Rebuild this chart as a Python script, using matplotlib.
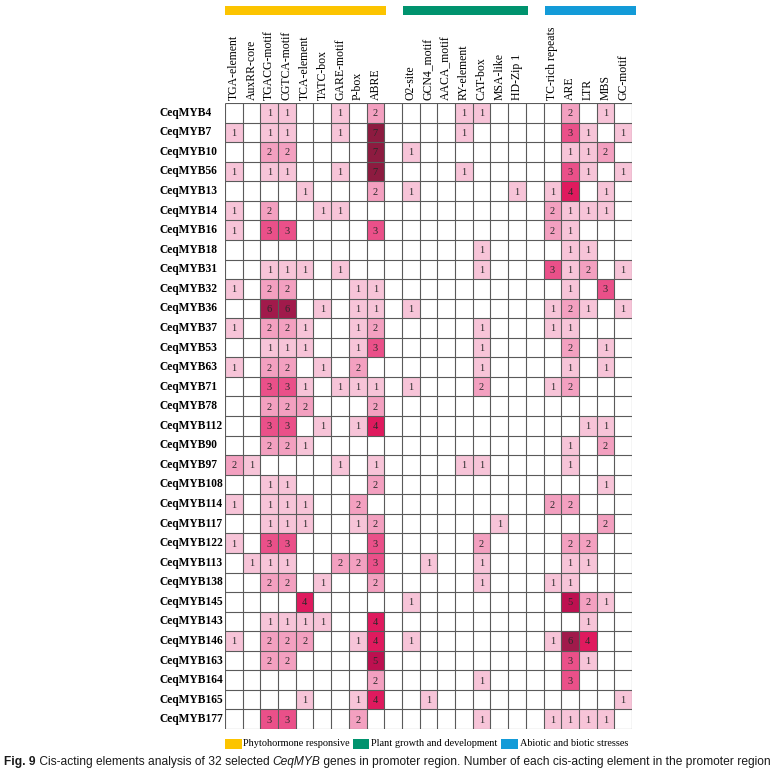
import matplotlib
matplotlib.use("Agg")
import matplotlib.pyplot as plt
import numpy as np
from matplotlib.colors import ListedColormap, BoundaryNorm
from matplotlib.patches import Rectangle
from matplotlib.transforms import blended_transform_factory

genes = ["CeqMYB4", "CeqMYB7", "CeqMYB10", "CeqMYB56", "CeqMYB13", "CeqMYB14", "CeqMYB16",
         "CeqMYB18", "CeqMYB31", "CeqMYB32", "CeqMYB36", "CeqMYB37", "CeqMYB53", "CeqMYB63",
         "CeqMYB71", "CeqMYB78", "CeqMYB112", "CeqMYB90", "CeqMYB97", "CeqMYB108", "CeqMYB114",
         "CeqMYB117", "CeqMYB122", "CeqMYB113", "CeqMYB138", "CeqMYB145", "CeqMYB143",
         "CeqMYB146", "CeqMYB163", "CeqMYB164", "CeqMYB165", "CeqMYB177"]

phyto_elements = ["TGA-element", "AuxRR-core", "TGACG-motif", "CGTCA-motif", "TCA-element",
                  "TATC-box", "GARE-motif", "P-box", "ABRE"]
growth_elements = ["O2-site", "GCN4_motif", "AACA_motif", "RY-element", "CAT-box",
                   "MSA-like", "HD-Zip 1"]
stress_elements = ["TC-rich repeats", "ARE", "LTR", "MBS", "GC-motif"]

phyto_counts = [
    [0, 0, 1, 1, 0, 0, 1, 0, 2],
    [1, 0, 1, 1, 0, 0, 1, 0, 7],
    [0, 0, 2, 2, 0, 0, 0, 0, 7],
    [1, 0, 1, 1, 0, 0, 1, 0, 7],
    [0, 0, 0, 0, 1, 0, 0, 0, 2],
    [1, 0, 2, 0, 0, 1, 1, 0, 0],
    [1, 0, 3, 3, 0, 0, 0, 0, 3],
    [0, 0, 0, 0, 0, 0, 0, 0, 0],
    [0, 0, 1, 1, 1, 0, 1, 0, 0],
    [1, 0, 2, 2, 0, 0, 0, 1, 1],
    [0, 0, 6, 6, 0, 1, 0, 1, 1],
    [1, 0, 2, 2, 1, 0, 0, 1, 2],
    [0, 0, 1, 1, 1, 0, 0, 1, 3],
    [1, 0, 2, 2, 0, 1, 0, 2, 0],
    [0, 0, 3, 3, 1, 0, 1, 1, 1],
    [0, 0, 2, 2, 2, 0, 0, 0, 2],
    [0, 0, 3, 3, 0, 1, 0, 1, 4],
    [0, 0, 2, 2, 1, 0, 0, 0, 0],
    [2, 1, 0, 0, 0, 0, 1, 0, 1],
    [0, 0, 1, 1, 0, 0, 0, 0, 2],
    [1, 0, 1, 1, 1, 0, 0, 2, 0],
    [0, 0, 1, 1, 1, 0, 0, 1, 2],
    [1, 0, 3, 3, 0, 0, 0, 0, 3],
    [0, 1, 1, 1, 0, 0, 2, 2, 3],
    [0, 0, 2, 2, 0, 1, 0, 0, 2],
    [0, 0, 0, 0, 4, 0, 0, 0, 0],
    [0, 0, 1, 1, 1, 1, 0, 0, 4],
    [1, 0, 2, 2, 2, 0, 0, 1, 4],
    [0, 0, 2, 2, 0, 0, 0, 0, 5],
    [0, 0, 0, 0, 0, 0, 0, 0, 2],
    [0, 0, 0, 0, 1, 0, 0, 1, 4],
    [0, 0, 3, 3, 0, 0, 0, 2, 0],
]

growth_counts = [
    [0, 0, 0, 1, 1, 0, 0],
    [0, 0, 0, 1, 0, 0, 0],
    [1, 0, 0, 0, 0, 0, 0],
    [0, 0, 0, 1, 0, 0, 0],
    [1, 0, 0, 0, 0, 0, 1],
    [0, 0, 0, 0, 0, 0, 0],
    [0, 0, 0, 0, 0, 0, 0],
    [0, 0, 0, 0, 1, 0, 0],
    [0, 0, 0, 0, 1, 0, 0],
    [0, 0, 0, 0, 0, 0, 0],
    [1, 0, 0, 0, 0, 0, 0],
    [0, 0, 0, 0, 1, 0, 0],
    [0, 0, 0, 0, 1, 0, 0],
    [0, 0, 0, 0, 1, 0, 0],
    [1, 0, 0, 0, 2, 0, 0],
    [0, 0, 0, 0, 0, 0, 0],
    [0, 0, 0, 0, 0, 0, 0],
    [0, 0, 0, 0, 0, 0, 0],
    [0, 0, 0, 1, 1, 0, 0],
    [0, 0, 0, 0, 0, 0, 0],
    [0, 0, 0, 0, 0, 0, 0],
    [0, 0, 0, 0, 0, 1, 0],
    [0, 0, 0, 0, 2, 0, 0],
    [0, 1, 0, 0, 1, 0, 0],
    [0, 0, 0, 0, 1, 0, 0],
    [1, 0, 0, 0, 0, 0, 0],
    [0, 0, 0, 0, 0, 0, 0],
    [1, 0, 0, 0, 0, 0, 0],
    [0, 0, 0, 0, 0, 0, 0],
    [0, 0, 0, 0, 1, 0, 0],
    [0, 1, 0, 0, 0, 0, 0],
    [0, 0, 0, 0, 1, 0, 0],
]

stress_counts = [
    [0, 2, 0, 1, 0],
    [0, 3, 1, 0, 1],
    [0, 1, 1, 2, 0],
    [0, 3, 1, 0, 1],
    [1, 4, 0, 1, 0],
    [2, 1, 1, 1, 0],
    [2, 1, 0, 0, 0],
    [0, 1, 1, 0, 0],
    [3, 1, 2, 0, 1],
    [0, 1, 0, 3, 0],
    [1, 2, 1, 0, 1],
    [1, 1, 0, 0, 0],
    [0, 2, 0, 1, 0],
    [0, 1, 0, 1, 0],
    [1, 2, 0, 0, 0],
    [0, 0, 0, 0, 0],
    [0, 0, 1, 1, 0],
    [0, 1, 0, 2, 0],
    [0, 1, 0, 0, 0],
    [0, 0, 0, 1, 0],
    [2, 2, 0, 0, 0],
    [0, 0, 0, 2, 0],
    [0, 2, 2, 0, 0],
    [0, 1, 1, 0, 0],
    [1, 1, 0, 0, 0],
    [0, 5, 2, 1, 0],
    [0, 0, 1, 0, 0],
    [1, 6, 4, 0, 0],
    [0, 3, 1, 0, 0],
    [0, 3, 0, 0, 0],
    [0, 0, 0, 0, 1],
    [1, 1, 1, 1, 0],
]

group_names = ["Phytohormone responsive", "Plant growth and development", "Abiotic and biotic stresses"]
group_colors = ["#fcc400", "#00936e", "#139bd8"]
level_colors = ["#f7c4d8", "#f3a0c0", "#ea5089", "#df1a5e", "#bd1050", "#a11a4b", "#8d1b40"]

# assemble matrix with blank spacer columns between groups
P = np.array(phyto_counts); G = np.array(growth_counts); S = np.array(stress_counts)
blank = np.zeros((len(genes), 1), dtype=int)
M = np.hstack([P, blank, G, blank, S])
col_labels = phyto_elements + [""] + growth_elements + [""] + stress_elements
nrow, ncol = M.shape

W, H = 784, 772
fig = plt.figure(figsize=(W / 100, H / 100), dpi=100)
serif = ["Liberation Serif", "DejaVu Serif"]

gl, gr, gt, gb = 225, 632, 103, 729
ax = fig.add_axes([gl / W, 1 - gb / H, (gr - gl) / W, (gb - gt) / H])

cmap = ListedColormap(level_colors)
norm = BoundaryNorm(np.arange(0.5, 8.5, 1), cmap.N)
Mm = np.ma.masked_where(M == 0, M)
ax.pcolormesh(np.arange(-0.5, ncol, 1), np.arange(-0.5, nrow, 1), Mm, cmap=cmap, norm=norm)
ax.set_xlim(-0.5, ncol - 0.5)
ax.set_ylim(nrow - 0.5, -0.5)

gc = "#5a5a5a"
ax.vlines(np.arange(-0.5, ncol, 1), -0.5, nrow - 0.5, colors=gc, lw=0.8)
ax.hlines(np.arange(-0.5, nrow, 1), -0.5, ncol - 0.5, colors=gc, lw=0.8)
for s in ax.spines.values():
    s.set_visible(False)

for i in range(nrow):
    for j in range(ncol):
        if M[i, j] > 0:
            ax.text(j, i + 0.05, str(M[i, j]), ha="center", va="center",
                    fontsize=7.5, family=serif, color="#2a2a2a")

ax.set_xticks(range(ncol))
ax.set_xticklabels(col_labels, rotation=90, family=serif, fontsize=8.5)
ax.xaxis.tick_top()
ax.tick_params(axis="x", length=0, pad=2)
ax.set_yticks([])

for i, g in enumerate(genes):
    ax.text(160 / W, i, g, transform=blended_transform_factory(fig.transFigure, ax.transData),
            ha="left", va="center", fontsize=8.3, family=serif, fontweight="bold")

# group bars above
tb = blended_transform_factory(ax.transData, fig.transFigure)
spans = [(-0.5, 8.6), (9.55, 16.6), (17.6, 22.7)]
for (x0, x1), c in zip(spans, group_colors):
    fig.patches.append(Rectangle((x0, 1 - 15 / H), x1 - x0, 9 / H, transform=tb,
                                 facecolor=c, edgecolor="none"))

fig.canvas.draw()
renderer = fig.canvas.get_renderer()

# legend at bottom
leg_x = [(225, 242, 243, 107), (353, 369, 371, 126), (501, 518, 520, 108)]
for (px0, px1, tx, tw), c, name in zip(leg_x, group_colors, group_names):
    fig.patches.append(Rectangle((px0 / W, 1 - 749 / H), (px1 - px0) / W, 10 / H,
                                 transform=fig.transFigure, facecolor=c, edgecolor="none"))
    t = fig.text(tx / W, 1 - 744 / H, name, ha="left", va="center", fontsize=8,
                 family=serif)
    w = t.get_window_extent(renderer).width
    t.set_fontsize(8 * tw / w)

# caption
pieces = [("Fig. 9", "bold", "normal"),
          (" Cis-acting elements analysis of 32 selected ", "normal", "normal"),
          ("CeqMYB", "normal", "italic"),
          (" genes in promoter region. Number of each cis-acting element in the promoter region", "normal", "normal")]
cap_font = ["Liberation Sans Narrow", "Liberation Sans", "DejaVu Sans"]

def draw_caption(fs, draw=True):
    x = 4
    texts = []
    for t, w, st in pieces:
        tt = fig.text(x / W, 1 - 762 / H, t, ha="left", va="center", fontsize=fs,
                      fontweight=w, fontstyle=st, family=cap_font, color="#1a1a1a")
        bb = tt.get_window_extent(renderer)
        x += bb.width
        texts.append(tt)
    if not draw:
        for tt in texts:
            tt.remove()
    return x - 4

wid = draw_caption(8, draw=False)
fs = 8 * 776 / wid
draw_caption(fs)

fig.savefig("out.png", dpi=100)
